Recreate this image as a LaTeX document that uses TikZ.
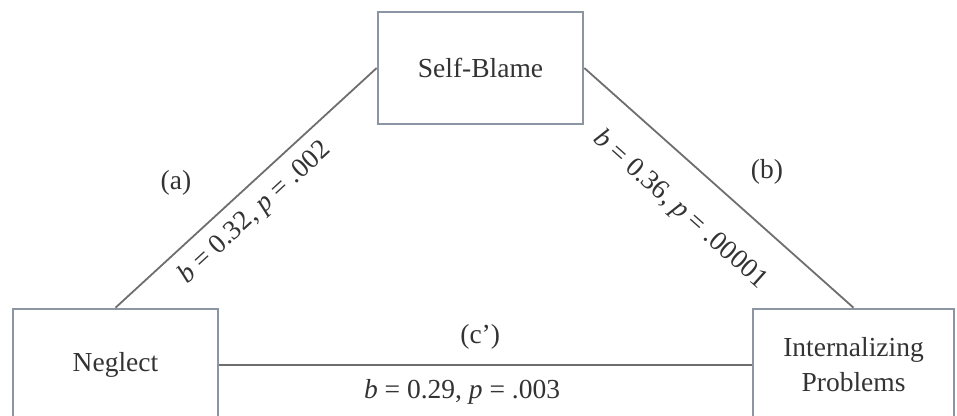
\documentclass[tikz,border=0pt]{standalone}
\usepackage{fontspec}
\setmainfont{Liberation Serif}
\usetikzlibrary{positioning}
\definecolor{frame}{HTML}{8C96A3}
\definecolor{link}{HTML}{6E6E6E}
\definecolor{ink}{HTML}{333333}

\begin{document}
\begin{tikzpicture}[x=1pt,y=-1pt,font=\fontsize{27.5}{35}\selectfont,text=ink,
  var/.style={draw=frame,line width=2.6pt,fill=white,align=center,
    minimum width=205pt,minimum height=112pt,inner sep=0pt},
  conn/.style={draw=link,line width=1.8pt},
  coef/.style={inner sep=3pt}]
  \useasboundingbox (0,0) rectangle (957,415);
  \node[var] (blame) at (480.5,68) {Self-Blame};
  \node[var] (neglect) at (115.5,365) {Neglect};
  \node[var,minimum width=201pt] (intern) at (853.5,365) {Internalizing\\Problems};
  \draw[conn] (neglect.north) -- (blame.west)
    node[coef,sloped,pos=.47,below=8pt] (coefA) {\textit{b} = 0.32, \textit{p} = .002};
  \draw[conn] (blame.east) -- (intern.north)
    node[coef,sloped,pos=.46,below=26pt] (coefB) {\textit{b} = 0.36, \textit{p} = .00001};
  \draw[conn] (neglect.east) -- (intern.west)
    node[coef,pos=.456,below=11pt] (coefC) {\textit{b} = 0.29, \textit{p} = .003}
    node[coef,pos=.49,above=12pt] (labC) {(c’)};
  \node (labA) at (176,183) {(a)};
  \node (labB) at (767,172) {(b)};
\end{tikzpicture}
\end{document}
